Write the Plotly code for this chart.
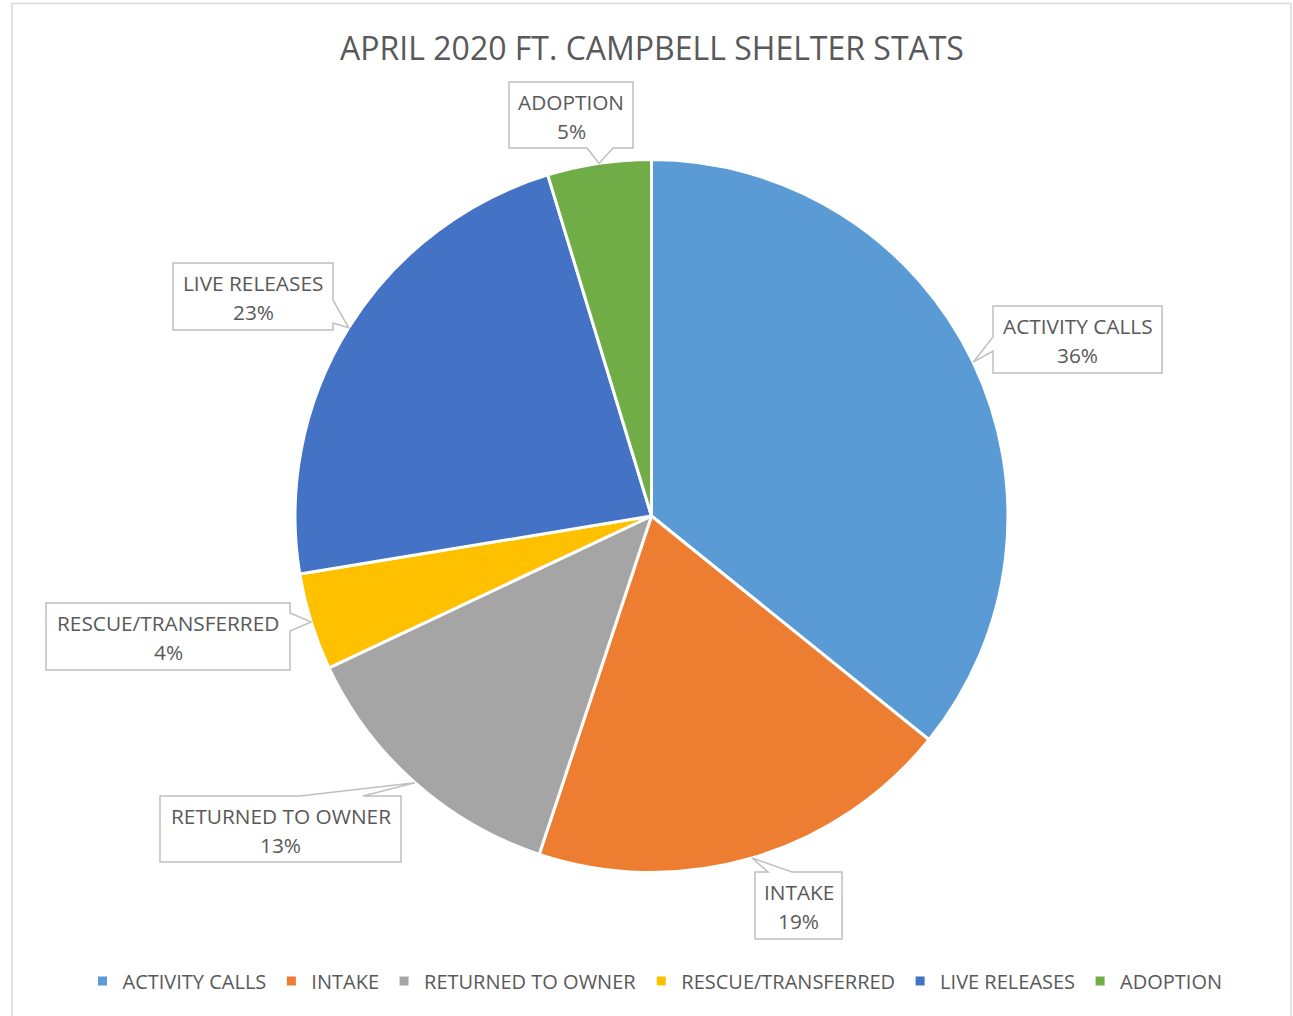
import math
import plotly.graph_objects as go

W, H = 1293, 1016

# ---- data ----
categories = ["ACTIVITY CALLS", "INTAKE", "RETURNED TO OWNER",
              "RESCUE/TRANSFERRED", "LIVE RELEASES", "ADOPTION"]
values = [35.8, 19.3, 12.9, 4.4, 22.9, 4.7]
colors = ["#5B9BD5", "#ED7D31", "#A5A5A5", "#FFC000", "#4472C4", "#70AD47"]
title_text = "APRIL 2020 FT. CAMPBELL SHELTER STATS"

FONT = "Open Sans, sans-serif"
GREY = "#595959"

def px(x):
    return x / W

def py(y):
    return 1 - y / H

# pie geometry (pixels)
CX, CY, R = 651.5, 516.0, 356.5

fig = go.Figure()
fig.add_trace(go.Pie(
    labels=categories, values=values, sort=False, direction="clockwise",
    rotation=0, marker=dict(colors=colors, line=dict(color="white", width=3)),
    textinfo="none", hoverinfo="label+percent",
    domain=dict(x=[px(CX - R), px(CX + R)], y=[py(CY + R), py(CY - R)]),
))

# callout boxes: (x0, y0, x1, y1, side, base0, base1)
callouts = [
    (993, 306, 1162, 373, "left", 337, 351),
    (755, 872, 842, 939, "top", 768, 792),
    (160, 796, 401, 862, "top", 300, 363),
    (46, 603, 290, 670, "right", 613, 631),
    (173, 263, 333, 330, "right", 300, 323),
    (509, 82, 633, 148, "bottom", 587, 613),
]

total = sum(values)
shapes = []
annotations = []
cum = 0.0
for cat, v, (x0, y0, x1, y1, side, b0, b1) in zip(categories, values, callouts):
    mid = (cum + v / 2) / total * 2 * math.pi
    cum += v
    tx = CX + R * math.sin(mid)
    ty = CY - R * math.cos(mid)
    if side == "left":
        pts = [(x0, y0), (x1, y0), (x1, y1), (x0, y1), (x0, b1), (tx, ty), (x0, b0)]
    elif side == "right":
        pts = [(x0, y0), (x1, y0), (x1, b0), (tx, ty), (x1, b1), (x1, y1), (x0, y1)]
    elif side == "top":
        pts = [(x0, y0), (b0, y0), (tx, ty), (b1, y0), (x1, y0), (x1, y1), (x0, y1)]
    else:
        pts = [(x0, y0), (x1, y0), (x1, y1), (b1, y1), (tx, ty), (b0, y1), (x0, y1)]
    path = "M " + " L ".join(f"{px(a):.5f},{py(b):.5f}" for a, b in pts) + " Z"
    shapes.append(dict(type="path", xref="paper", yref="paper", path=path,
                       fillcolor="white", line=dict(color="#BFBFBF", width=1.5), layer="above"))
    pct = f"{round(v / total * 100)}%"
    xc = (x0 + x1) / 2
    for txt, yy in ((cat, y0 + 20), (pct, y0 + 49)):
        annotations.append(dict(text=txt, x=px(xc), y=py(yy), xref="paper", yref="paper",
                                xanchor="center", yanchor="middle", showarrow=False,
                                font=dict(family=FONT, size=20.8, color=GREY)))

# chart frame
shapes.append(dict(type="rect", xref="paper", yref="paper",
                   x0=px(12), x1=px(1291), y0=py(1030), y1=py(3.5),
                   line=dict(color="#D9D9D9", width=1.5), fillcolor="rgba(0,0,0,0)", layer="below"))

fig.update_layout(
    width=W, height=H, margin=dict(l=0, r=0, t=0, b=0),
    paper_bgcolor="white", plot_bgcolor="white",
    title=dict(text=title_text, x=px(652), y=py(49), xref="paper", yref="container",
               xanchor="center", yanchor="middle",
               font=dict(family=FONT, size=32, color=GREY)),
    legend=dict(orientation="h", x=px(655), y=py(981), xanchor="center", yanchor="middle",
                font=dict(family=FONT, size=20, color=GREY), traceorder="normal",
                itemclick=False, itemdoubleclick=False),
    shapes=shapes, annotations=annotations,
)

fig.write_html("out.html", config={"displayModeBar": False},
               post_script="document.body.style.margin='0';document.body.style.overflow='hidden';")
